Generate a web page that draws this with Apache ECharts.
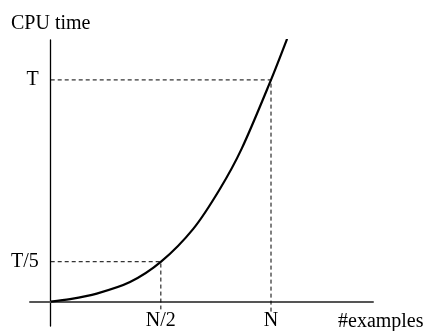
<!DOCTYPE html>
<html>
<head>
<meta charset="utf-8">
<script src="https://cdn.jsdelivr.net/npm/echarts@6/dist/echarts.min.js"></script>
<style>html,body{margin:0;padding:0;background:#fff}#c{width:440px;height:331px}</style>
</head>
<body>
<div id="c"></div>
<script>
// x in units of N, y in units of T
const curveX = [0, 0.088, 0.209, 0.36, 0.501, 0.647, 0.768, 0.867, 1.0, 1.073];
const curveY = [0, 0.011, 0.036, 0.088, 0.180, 0.328, 0.508, 0.690, 1.0, 1.185];
const xTickValues = [0.5, 1];
const xTickLabels = ['N/2', 'N'];
const yTickValues = [0.18, 1];
const yTickLabels = ['T/5', 'T'];
const guideT = [[0, 1], [1, 1], [1, -0.045]];
const guideT5 = [[0, 0.18], [0.5, 0.18], [0.5, -0.035]];

const font = 'Liberation Serif';
const chart = echarts.init(document.getElementById('c'), null, {renderer: 'canvas'});
const dashStyle = {color: '#000', width: 1, type: [4, 3]};
chart.setOption({
  animation: false,
  backgroundColor: '#fff',
  grid: {left: 30, right: 67, top: 40, bottom: 5, containLabel: false, outerBoundsMode: 'none'},
  xAxis: {
    type: 'value', min: -0.094, max: 1.463, position: 'bottom', offset: -24.4,
    name: '#examples', nameLocation: 'end', nameGap: -35,
    nameTextStyle: {fontFamily: font, fontSize: 20, color: '#000', align: 'left', verticalAlign: 'top', padding: [10, 0, 0, 0]},
    axisLine: {show: true, onZero: false, lineStyle: {color: '#555', width: 2}},
    axisTick: {show: false},
    splitLine: {show: false},
    axisLabel: {
      customValues: xTickValues, margin: 9,
      fontFamily: font, fontSize: 20, color: '#000',
      formatter: v => xTickLabels[xTickValues.indexOf(v)] || ''
    }
  },
  yAxis: {
    type: 'value', min: -0.11, max: 1.18, position: 'left', offset: -20.7,
    name: 'CPU time', nameLocation: 'end', nameGap: 6,
    nameTextStyle: {fontFamily: font, fontSize: 20, color: '#000'},
    axisLine: {show: true, onZero: false, lineStyle: {color: '#000', width: 1.3}},
    axisTick: {show: false},
    splitLine: {show: false},
    axisLabel: {
      customValues: yTickValues, margin: 12,
      fontFamily: font, fontSize: 20, color: '#000',
      formatter: v => yTickLabels[yTickValues.indexOf(v)] || ''
    }
  },
  series: [
    {type: 'line', data: guideT, symbol: 'none', lineStyle: dashStyle, silent: true, z: 1},
    {type: 'line', data: guideT5, symbol: 'none', lineStyle: dashStyle, silent: true, z: 1},
    {type: 'line', data: curveX.map((x, i) => [x, curveY[i]]), symbol: 'none', smooth: 0.3,
     lineStyle: {color: '#000', width: 2.2}, z: 3}
  ]
});
</script>
</body>
</html>
